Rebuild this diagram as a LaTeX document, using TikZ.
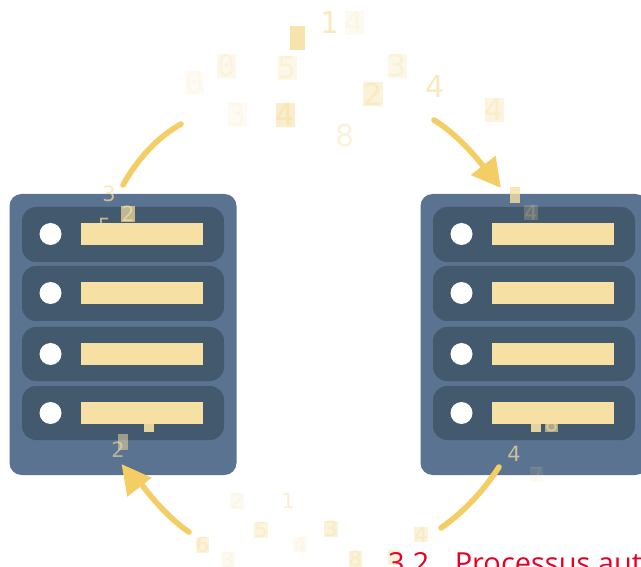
\documentclass[tikz,border=0pt]{standalone}
\usepackage{fontspec}
\setmainfont{DejaVu Sans}
\newfontfamily\zerofont{DejaVu Sans Mono}
\newfontfamily\titlefont{Open Sans}
\definecolor{srv}{HTML}{5A7391}
\definecolor{rowc}{HTML}{435A6E}
\definecolor{barc}{HTML}{F7E0A3}
\definecolor{arr}{HTML}{F4CD65}
\definecolor{ttl}{HTML}{E60026}
\tikzset{
  x=1pt,y=-1pt,
  server/.style={fill=srv,rounded corners=12pt,draw=none},
  rowbox/.style={fill=rowc,rounded corners=14pt,draw=none},
  lamp/.style={fill=white,draw=none},
  barbox/.style={fill=barc,draw=none},
  flow/.style={draw=arr,line width=5.6pt,line cap=round},
  flowhead/.style={fill=arr,draw=none},
  bigd/.style={inner sep=0pt,outer sep=0pt,text=barc,font=\fontsize{30}{30}\selectfont,anchor=center},
  smalld/.style={inner sep=0pt,outer sep=0pt,text=barc,font=\fontsize{21}{21}\selectfont,anchor=center},
  boxed/.style={fill=barc},
}
% #1 x-position of the server
\newcommand{\serverrack}[1]{%
  \begin{scope}[xshift=#1pt]
    \fill[server] (9.5,194) rectangle (236.5,475);
    \foreach \ya/\yb in {207/262,266/321,327/381,386/440}{\fill[rowbox] (22,\ya) rectangle (224,\yb);}
    \foreach \yc in {234,293,354,413}{\fill[lamp] (50.5,\yc) circle (11);}
  \end{scope}}
\newcommand{\serverbars}[1]{%
  \begin{scope}[xshift=#1pt]
    \foreach \yc in {234,293,354,413}{\fill[barbox] (81,\yc-11) rectangle (203,\yc+11);}
  \end{scope}}
\begin{document}
\begin{tikzpicture}
\useasboundingbox (0,0) rectangle (641,567);
\clip (0,0) rectangle (641,567);
\fill[white] (0,0) rectangle (641,567);
\serverrack{0}
\serverrack{411}
% large digits, upper ring
\node[bigd,boxed,opacity=.9,minimum width=15pt,minimum height=24pt] (t1) at (297.5,38) {};
\node[bigd,opacity=.7] (t2) at (330,23) {1};
\node[bigd,boxed,opacity=.15,minimum width=19pt,minimum height=24pt] (t3) at (354.5,23) {4};
\node[bigd,boxed,opacity=.2,minimum width=17pt,minimum height=24pt] (t4) at (226.5,66) {\zerofont 0};
\node[bigd,boxed,opacity=.1,minimum width=17pt,minimum height=24pt] (t5) at (194.5,83) {\zerofont 0};
\node[bigd,boxed,opacity=.25,minimum width=15pt,minimum height=24pt] (t6) at (287.5,68) {5};
\node[bigd,boxed,opacity=.25,minimum width=15pt,minimum height=24pt] (t7) at (397.5,66) {3};
\node[bigd,boxed,opacity=.4,minimum width=16pt,minimum height=24pt] (t8) at (373,94) {2};
\node[bigd,boxed,opacity=.12,minimum width=15pt,minimum height=24pt] (t9) at (237.5,115) {3};
\node[bigd,boxed,opacity=.55,minimum width=19pt,minimum height=24pt] (t10) at (285.5,115) {4};
\node[bigd,boxed,opacity=.35,minimum width=19pt,minimum height=24pt] (t11) at (494.5,110) {4};
\node[bigd,opacity=.7] (t12) at (435,87) {4};
\node[bigd,opacity=.4] (t13) at (345,136) {8};
% small digits on the servers
\node[smalld,opacity=.7] (s1) at (109,194) {3};
\node[smalld,opacity=.7] (s2) at (104.5,226) {5};
\node[smalld,boxed,opacity=.7,minimum width=10pt,minimum height=16pt] (s3) at (128,214) {2};
\node[smalld,boxed,opacity=.9,minimum width=10pt,minimum height=16pt] (s4) at (149,424) {};
\node[smalld,boxed,opacity=.5,minimum width=10pt,minimum height=16pt] (s5) at (123,442) {};
\node[smalld,opacity=.6] (s6) at (118,450) {2};
\node[smalld,boxed,opacity=.8,minimum width=10pt,minimum height=16pt] (s7) at (515,195) {};
\node[smalld,boxed,opacity=.2,minimum width=12pt,minimum height=15pt] (s8) at (531,212.5) {4};
\node[smalld,boxed,opacity=.9,minimum width=10pt,minimum height=16pt] (s9) at (536,424) {};
\node[smalld,boxed,opacity=.6,minimum width=11pt,minimum height=16pt] (s10) at (551.5,424) {8};
\node[smalld,opacity=.7] (s11) at (514,454) {4};
\node[smalld,boxed,opacity=.1,minimum width=11pt,minimum height=15pt] (s12) at (536.5,474.5) {7};
% small digits, lower ring
\node[smalld,boxed,opacity=.15,minimum width=10pt,minimum height=16pt] (b1) at (237,501) {2};
\node[smalld,opacity=.5] (b2) at (288,501) {1};
\node[smalld,boxed,opacity=.35,minimum width=10pt,minimum height=16pt] (b3) at (261,530) {5};
\node[smalld,boxed,opacity=.15,minimum width=12pt,minimum height=15pt] (b4) at (300,544.5) {4};
\node[smalld,boxed,opacity=.4,minimum width=11pt,minimum height=16pt] (b5) at (202.5,545) {6};
\node[smalld,boxed,opacity=.15,minimum width=10pt,minimum height=15pt] (b6) at (228,559.5) {3};
\node[smalld,boxed,opacity=.4,minimum width=10pt,minimum height=16pt] (b7) at (331,529) {3};
\node[smalld,boxed,opacity=.4,minimum width=12pt,minimum height=15pt] (b8) at (421,534.5) {4};
\node[smalld,boxed,opacity=.4,minimum width=11pt,minimum height=16pt] (b9) at (355.5,559) {8};
\node[smalld,boxed,opacity=.4,minimum width=12pt,minimum height=15pt] (b10) at (394,557.5) {};
\serverbars{0}
\serverbars{411}
% flow arrows
\coordinate (a1) at (181,124);
\coordinate (a2) at (123,185);
\coordinate (a3) at (434,120);
\coordinate (a4) at (487,171);
\coordinate (h1) at (500.7,187.7);
\coordinate (h2) at (495.7,155.7);
\coordinate (h3) at (470.7,175);
\coordinate (a5) at (441,528);
\coordinate (a6) at (499,467);
\coordinate (a7) at (189,532);
\coordinate (a8) at (139,481);
\coordinate (h4) at (121.7,464.3);
\coordinate (h5) at (151.7,477.7);
\coordinate (h6) at (127.3,496.7);
\draw[flow] (a1) .. controls (158,137) and (138,158) .. (a2);
\draw[flow] (a3) .. controls (452,131) and (471,150) .. (a4);
\fill[flowhead] (h1) -- (h2) -- (h3) -- cycle;
\draw[flow] (a5) .. controls (465,511) and (484,490) .. (a6);
\draw[flow] (a7) .. controls (171,520) and (153,500) .. (a8);
\fill[flowhead] (h4) -- (h5) -- (h6) -- cycle;
% title
\node[inner sep=0pt,anchor=base west,text=ttl,font=\titlefont\fontsize{29}{29}\selectfont] (title) at (388,573) {3.2.\hspace{0.62em}Processus aut};
\end{tikzpicture}
\end{document}
